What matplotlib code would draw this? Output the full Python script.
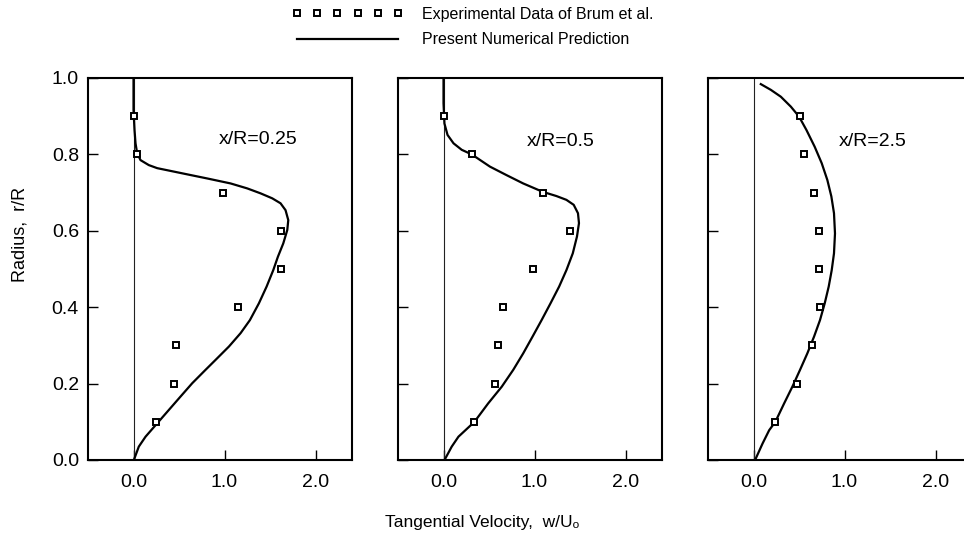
import numpy as np
import matplotlib.pyplot as plt
from matplotlib.lines import Line2D

plt.rcParams['font.family'] = ['Liberation Sans', 'DejaVu Sans']

# radial stations of the measured points
R_EXP = [0.9, 0.8, 0.7, 0.6, 0.5, 0.4, 0.3, 0.2, 0.1]

# x/R = 0.25
W_EXP_025 = [0.0, 0.04, 0.985, 1.62, 1.615, 1.15, 0.47, 0.45, 0.245]
W_NUM_025 = [0.01, 0.058, 0.132, 0.26, 0.388, 0.516, 0.645, 0.791, 0.901, 1.048,
             1.176, 1.278, 1.377, 1.462, 1.535, 1.586, 1.645, 1.689, 1.70, 1.67,
             1.615, 1.524, 1.396, 1.249, 1.066, 0.81, 0.626, 0.443, 0.26, 0.168,
             0.077, 0.04, 0.022, 0.011, 0.0, 0.0]
R_NUM_025 = [0.004, 0.035, 0.061, 0.096, 0.131, 0.166, 0.201, 0.236, 0.262, 0.297,
             0.332, 0.366, 0.41, 0.454, 0.497, 0.532, 0.567, 0.602, 0.628, 0.654,
             0.672, 0.685, 0.698, 0.711, 0.724, 0.737, 0.746, 0.755, 0.764, 0.772,
             0.785, 0.803, 0.829, 0.864, 0.916, 0.995]

# x/R = 0.5
W_EXP_05 = [0.0, 0.31, 1.09, 1.39, 0.985, 0.65, 0.60, 0.565, 0.34]
W_NUM_05 = [0.02, 0.09, 0.164, 0.34, 0.49, 0.64, 0.766, 0.875, 0.978, 1.077,
            1.175, 1.27, 1.35, 1.42, 1.466, 1.488, 1.477, 1.43, 1.35, 1.24,
            1.09, 0.875, 0.69, 0.51, 0.31, 0.2, 0.11, 0.044, 0.01, 0.0, 0.0]
R_NUM_05 = [0.004, 0.035, 0.061, 0.1, 0.148, 0.192, 0.236, 0.279, 0.323, 0.366,
            0.41, 0.454, 0.497, 0.541, 0.585, 0.62, 0.646, 0.668, 0.681, 0.691,
            0.702, 0.724, 0.746, 0.768, 0.8, 0.812, 0.829, 0.851, 0.881, 0.934, 0.995]

# x/R = 2.5
W_EXP_25 = [0.51, 0.56, 0.665, 0.72, 0.72, 0.73, 0.645, 0.475, 0.24]
W_NUM_25 = [0.025, 0.099, 0.172, 0.24, 0.336, 0.427, 0.511, 0.591, 0.665, 0.73,
            0.782, 0.826, 0.859, 0.884, 0.895, 0.884, 0.855, 0.811, 0.749, 0.672,
            0.581, 0.5, 0.41, 0.3, 0.19, 0.08]
R_NUM_25 = [0.004, 0.043, 0.078, 0.1, 0.148, 0.192, 0.236, 0.279, 0.323, 0.366,
            0.41, 0.454, 0.497, 0.541, 0.593, 0.646, 0.69, 0.733, 0.777, 0.82,
            0.864, 0.899, 0.925, 0.951, 0.969, 0.984]

STATIONS = ['x/R=0.25', 'x/R=0.5', 'x/R=2.5']
LABEL_POS = [(0.94, 0.838), (0.92, 0.835), (0.94, 0.835)]

panels = [
    (W_EXP_025, W_NUM_025, R_NUM_025),
    (W_EXP_05, W_NUM_05, R_NUM_05),
    (W_EXP_25, W_NUM_25, R_NUM_25),
]

W, H = 964, 535
fig = plt.figure(figsize=(W / 100, H / 100), dpi=100)

lefts = [88, 398, 708]
for i, (w_exp, w_num, r_num) in enumerate(panels):
    ax = fig.add_axes([lefts[i] / W, 75 / H, 264 / W, 382 / H])
    ax.axvline(0, color='#222222', lw=0.8)
    ax.plot(w_num, r_num, color='k', lw=1.6, solid_joinstyle='round')
    ax.plot(w_exp, R_EXP, ls='none', marker='s', ms=5, mfc='white',
            mec='k', mew=1.4)
    ax.text(LABEL_POS[i][0], LABEL_POS[i][1], STATIONS[i], fontsize=14,
            ha='left', va='center')
    ax.set_xlim(-0.5, 2.4)
    ax.set_ylim(0, 1.0)
    ax.set_xticks([0, 1, 2])
    ax.set_xticklabels(['0.0', '1.0', '2.0'])
    ax.set_yticks([0, 0.2, 0.4, 0.6, 0.8, 1.0])
    if i == 0:
        ax.set_yticklabels(['0.0', '0.2', '0.4', '0.6', '0.8', '1.0'])
    else:
        ax.set_yticklabels([])
    ax.tick_params(direction='in', length=7.5, width=1, labelsize=14)
    ax.tick_params(axis='x', pad=10)
    ax.tick_params(axis='y', pad=6.5)
    for s in ax.spines.values():
        s.set_linewidth(1.5)

fig.text(20 / W, 1 - 234 / H, 'Radius,  r/R', rotation=90, fontsize=13,
         ha='center', va='center')
fig.text(482 / W, 1 - 522 / H, 'Tangential Velocity,  w/Uₒ', fontsize=12.5,
         ha='center', va='center')

handles = [
    Line2D([], [], ls='none', marker='s', ms=5, mfc='white', mec='k', mew=1.4),
    Line2D([], [], color='k', lw=1.6),
]
fig.legend(handles, ['Experimental Data of Brum et al.', 'Present Numerical Prediction'],
           loc='upper left', bbox_to_anchor=(292 / W, 1 - 7 / H), frameon=False,
           numpoints=6, handlelength=6.95, handletextpad=1.2, fontsize=11.5,
           labelspacing=0.65, borderaxespad=0, borderpad=0)

fig.savefig('out.png', dpi=100)
